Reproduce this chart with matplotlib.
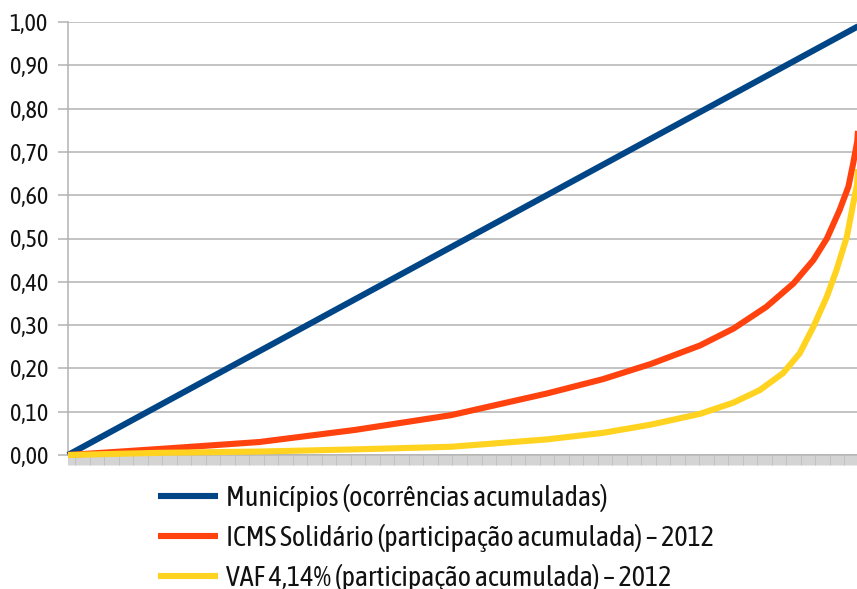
import numpy as np
import matplotlib
matplotlib.use("Agg")
import matplotlib.pyplot as plt
from matplotlib.ticker import FuncFormatter
from matplotlib import font_manager
from matplotlib.font_manager import FontProperties
from matplotlib.textpath import TextPath

# Number of municipalities (one category per municipality on the x axis)
n_municipios = 853

# Cumulative share of municipalities (line of equality)
mun_pos = [0.0, 1.0]
mun_val = [0.0, 1.0]

# ICMS Solidário 2012 – cumulative share, municipalities ordered ascending
icms_pos = [0.0, 0.05, 0.115, 0.24, 0.36, 0.48, 0.60, 0.67, 0.73, 0.792, 0.834,
            0.875, 0.909, 0.934, 0.951, 0.967, 0.978, 0.984, 0.989, 1.0]
icms_val = [0.0, 0.006, 0.014, 0.030, 0.058, 0.092, 0.142, 0.175, 0.210, 0.253, 0.292,
            0.342, 0.396, 0.450, 0.500, 0.566, 0.620, 0.674, 0.724, 1.0]

# VAF 4,14% 2012 – cumulative share
vaf_pos = [0.0, 0.115, 0.24, 0.36, 0.48, 0.60, 0.67, 0.73, 0.792, 0.834, 0.867,
           0.896, 0.917, 0.934, 0.951, 0.963, 0.976, 0.984, 0.989, 1.0]
vaf_val = [0.0, 0.005, 0.008, 0.013, 0.019, 0.036, 0.051, 0.070, 0.095, 0.121, 0.150,
           0.189, 0.235, 0.296, 0.366, 0.427, 0.504, 0.581, 0.627, 1.0]

labels = ["Municípios (ocorrências acumuladas)",
          "ICMS Solidário (participação acumulada) – 2012",
          "VAF 4,14% (participação acumulada) – 2012"]
colors = ["#004586", "#ff420e", "#ffd320"]
y_ticks = [0.0, 0.1, 0.2, 0.3, 0.4, 0.5, 0.6, 0.7, 0.8, 0.9, 1.0]

DPI = 100
W, H = 857, 589
fig = plt.figure(figsize=(W / DPI, H / DPI), dpi=DPI)
renderer = fig.canvas.get_renderer()


def text_width(text, fam, size=20.0):
    prop = FontProperties(family=[fam, "DejaVu Sans"], size=size)
    w, _, _ = renderer.get_text_width_height_descent(text, prop, ismath=False)
    return w


def cap_height(fam, size=20.0):
    prop = FontProperties(family=fam, size=size)
    return TextPath((0, 0), "H", prop=prop).get_extents().height * DPI / 72


# Choose the narrow grotesque face whose width-to-cap-height proportion fits best
available = {f.name for f in font_manager.fontManager.ttflist}
candidates = ["Liberation Sans Narrow", "Nimbus Sans Narrow", "Arial Narrow", "Archivo Narrow",
              "PT Sans Narrow", "Roboto Condensed", "Pragati Narrow", "Sofia Sans Condensed",
              "IBM Plex Sans Condensed", "Fira Sans Condensed", "Asap Condensed",
              "Encode Sans Condensed", "Barlow Semi Condensed", "Open Sans Condensed"]
target_ratio = 382.0 / 20.0
family, best = "Liberation Sans", None
for cand in candidates:
    if cand not in available:
        continue
    try:
        r = text_width(labels[0], cand) / cap_height(cand)
    except Exception:
        continue
    if best is None or abs(r - target_ratio) < best:
        family, best = cand, abs(r - target_ratio)
plt.rcParams["font.family"] = [family, "DejaVu Sans"]

tick_fs = 20.0 * 38 / text_width("0,70", family)
leg_fs = 20.0 * 382 / text_width(labels[0], family)

ax = fig.add_axes([68 / W, 1 - 455 / H, 798 / W, 433 / H])

grid_c = "#b3b3b3"
lw = 4.4

series = [(mun_pos, mun_val), (icms_pos, icms_val), (vaf_pos, vaf_val)]
for (pos, val), lab, col in zip(series, labels, colors):
    x = np.asarray(pos) * n_municipios
    ax.plot(x, val, color=col, lw=lw, label=lab, solid_capstyle="butt",
            solid_joinstyle="round", clip_on=False, zorder=3)

ax.set_xlim(0, n_municipios)
ax.set_ylim(0, 1)

ax.set_yticks(y_ticks)
ax.yaxis.set_major_formatter(FuncFormatter(lambda v, p: f"{v:.2f}".replace(".", ",")))
ax.tick_params(axis="y", length=7.2, width=1.1, color=grid_c, pad=7.2,
               labelsize=tick_fs, labelcolor="#111111")
ax.grid(axis="y", color=grid_c, lw=1.1, zorder=0)

ax.set_xticks(np.arange(0, n_municipios + 1))
ax.tick_params(axis="x", length=7.2, width=0.4, color=grid_c, labelbottom=False)

for s in ["top", "right"]:
    ax.spines[s].set_visible(False)
for s in ["left", "bottom"]:
    ax.spines[s].set_color(grid_c)
    ax.spines[s].set_linewidth(1.1)

# Legend below the plot: handles 60 px long, 8 px gap, rows 40 px apart
fs_px = leg_fs * DPI / 72
row_gap = 40.0
first_center = 498.0
text_left = 226.0


def make_legend(spacing, anchor):
    lg = fig.legend(loc="upper left", bbox_to_anchor=anchor,
                    bbox_transform=fig.transFigure, frameon=False, fontsize=leg_fs,
                    handlelength=60 / fs_px, handletextpad=8 / fs_px,
                    labelspacing=spacing, borderpad=0, borderaxespad=0)
    for t in lg.get_texts():
        t.set_color("#111111")
    for h in lg.get_lines():
        h.set_linewidth(lw)
    return lg


spacing = 0.5
anchor = (158 / W, 1 - 480 / H)
leg = make_legend(spacing, anchor)
for _ in range(3):
    fig.canvas.draw()
    ext = [t.get_window_extent(renderer) for t in leg.get_texts()]
    centers = [(e.y0 + e.y1) / 2 for e in ext]
    delta = centers[0] - centers[1]
    spacing += (row_gap - delta) / fs_px
    dx = text_left - ext[0].x0
    dy = (H - first_center) - centers[0]
    anchor = (anchor[0] + dx / W, anchor[1] + dy / H)
    leg.remove()
    leg = make_legend(spacing, anchor)

fig.savefig("out.png", dpi=DPI)
